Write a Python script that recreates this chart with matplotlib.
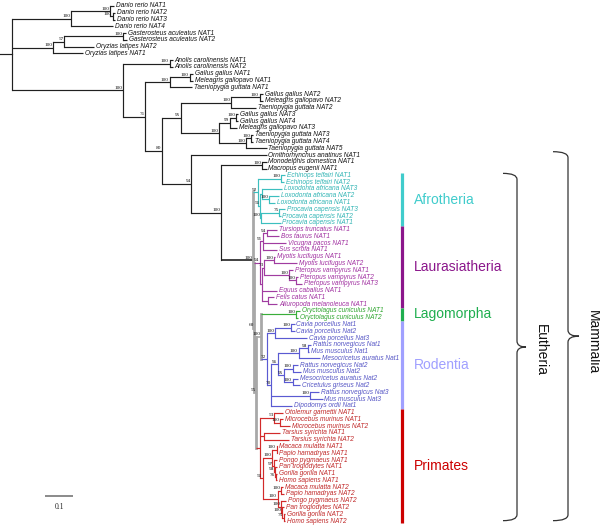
import matplotlib
matplotlib.use('Agg')
import matplotlib.pyplot as plt
from matplotlib.path import Path
from matplotlib.patches import PathPatch

# NAT gene tree, branch lengths in substitutions/site, internal labels = bootstrap
afro = ("((Echinops_telfairi_NAT1:0.015,Echinops_telfairi_NAT2:0.012)100:0.081,"
        "((Loxodonta_africana_NAT3:0.071,(Loxodonta_africana_NAT2:0.036,Loxodonta_africana_NAT1:0.021)100:0.025):0.007,"
        "((Procavia_capensis_NAT3:0.021,Procavia_capensis_NAT2:0.004)75:0.064,Procavia_capensis_NAT1:0.068)100:0.004)51:0.007)92:0.020")
laur = ("(((Tursiops_truncatus_NAT1:0.036,Bos_taurus_NAT1:0.043)94:0.014,Vicugna_pacos_NAT1:0.079,Sus_scrofa_NAT1:0.050)91:0.011,"
        "(((Myotis_lucifugus_NAT1:0.004,Myotis_lucifugus_NAT2:0.082)100:0.036,"
        "(Pteropus_vampyrus_NAT1:0.014,(Pteropus_vampyrus_NAT2:0.007,Pteropus_vampyrus_NAT3:0.021)100:0.025)100:0.089)73:0.007,"
        "Equus_caballus_NAT1:0.054,(Felis_catus_NAT1:0.024,Ailuropoda_melanoleuca_NAT1:0.035):0.019):0.007)94:0.021")
glires = ("((Oryctolagus_cuniculus_NAT1:0.012,Oryctolagus_cuniculus_NAT2:0.008)100:0.124,"
          "(((Cavia_porcellus_Nat1:0.012,Cavia_porcellus_Nat2:0.012)100:0.056,Cavia_porcellus_Nat3:0.114)100:0.032,"
          "((((Rattus_norvegicus_Nat1:0.011,Mus_musculus_Nat1:0.004)98:0.032,Mesocricetus_auratus_Nat1:0.075)100:0.075,"
          "((Rattus_norvegicus_Nat2:0.018,Mus_musculus_Nat2:0.029)100:0.032,"
          "(Mesocricetus_auratus_Nat2:0.018,Cricetulus_griseus_Nat2:0.025)100:0.032)95:0.021)96:0.023,"
          "(Rattus_norvegicus_Nat3:0.032,Mus_musculus_Nat3:0.043)100:0.140,Dipodomys_ordii_Nat1:0.073)70:0.017)72:0.018)100:0.018")
prim = ("((Otolemur_garnettii_NAT1:0.032,(Microcebus_murinus_NAT1:0.011,Microcebus_murinus_NAT2:0.036)100:0.021)53:0.050,"
        "(Tarsius_syrichta_NAT1:0.057,Tarsius_syrichta_NAT2:0.089):0.014,"
        "(((Macaca_mulatta_NAT1:0.003,Papio_hamadryas_NAT1:0.003)100:0.015,"
        "(Pongo_pygmaeus_NAT1:0.011,(Pan_troglodytes_NAT1:0.004,(Gorilla_gorilla_NAT1:0.002,Homo_sapiens_NAT1:0.002)76:0.002)98:0.004)97:0.007)100:0.035,"
        "((Macaca_mulatta_NAT2:0.007,Papio_hamadryas_NAT2:0.011)100:0.013,"
        "(Pongo_pygmaeus_NAT2:0.019,(Pan_troglodytes_NAT2:0.007,(Gorilla_gorilla_NAT2:0.004,Homo_sapiens_NAT2:0.004)75:0.004)100:0.005)100:0.012)100:0.054)51:0.008):0.014")
eutheria = "(" + afro + ",(" + laur + ",(" + glires + "," + prim + ")55:0.007)60:0.006)100:0.113"

newick = ("(((Danio_rerio_NAT1:0.014,(Danio_rerio_NAT2:0.009,Danio_rerio_NAT3:0.009)100:0.009)100:0.140,Danio_rerio_NAT4:0.151)100:0.210,"
          "(((Gasterosteus_aculeatus_NAT1:0.008,Gasterosteus_aculeatus_NAT2:0.013)100:0.211,Oryzias_latipes_NAT2:0.106)57:0.039,Oryzias_latipes_NAT1:0.106)100:0.148,"
          "((Anolis_carolinensis_NAT1:0.011,Anolis_carolinensis_NAT2:0.011)100:0.167,"
          "(((Gallus_gallus_NAT1:0.011,Meleagris_gallopavo_NAT1:0.014)100:0.071,Taeniopygia_guttata_NAT1:0.079)100:0.087,"
          "((((Gallus_gallus_NAT2:0.011,Meleagris_gallopavo_NAT2:0.014)100:0.101,Taeniopygia_guttata_NAT2:0.089)100:0.179,"
          "(((Gallus_gallus_NAT3:0.008,Gallus_gallus_NAT4:0.008)100:0.020,Meleagris_gallopavo_NAT3:0.023)99:0.039,"
          "((Taeniopygia_guttata_NAT3:0.006,Taeniopygia_guttata_NAT4:0.006)100:0.018,Taeniopygia_guttata_NAT5:0.073)100:0.095)100:0.137)95:0.070,"
          "(Ornithorhynchus_anatinus_NAT1:0.268,((Monodelphis_domestica_NAT1:0.016,Macropus_eugenii_NAT1:0.016)100:0.146,"
          + eutheria + ")100:0.106)94:0.107)80:0.058)71:0.080)100:0.396);")

clade_names = ['Afrotheria', 'Laurasiatheria', 'Lagomorpha', 'Rodentia', 'Primates']
clade_first = ['Echinops_telfairi_NAT1', 'Tursiops_truncatus_NAT1', 'Oryctolagus_cuniculus_NAT1',
               'Cavia_porcellus_Nat1', 'Otolemur_garnettii_NAT1']
clade_last = ['Procavia_capensis_NAT1', 'Ailuropoda_melanoleuca_NAT1', 'Oryctolagus_cuniculus_NAT2',
              'Dipodomys_ordii_Nat1', 'Homo_sapiens_NAT2']
branch_colors = ['#3cbfbf', '#a03ca0', '#3aae3a', '#5a5ad2', '#d22a2a']
text_colors = ['#30b4b4', '#a02fa0', '#2ea52e', '#5555c5', '#c02828']
band_colors = ['#40cccc', '#8b168b', '#1fae4f', '#a0a0ff', '#cc0000']
scale_len = 0.1


def parse(s):
    s = s.strip().rstrip(';')
    pos = 0

    def node():
        nonlocal pos
        n = {'children': [], 'name': '', 'len': 0.0}
        if s[pos] == '(':
            pos += 1
            while True:
                n['children'].append(node())
                if s[pos] == ',':
                    pos += 1
                    continue
                pos += 1
                break
        start = pos
        while pos < len(s) and s[pos] not in ':,)':
            pos += 1
        n['name'] = s[start:pos]
        if pos < len(s) and s[pos] == ':':
            pos += 1
            start = pos
            while pos < len(s) and s[pos] not in ',)':
                pos += 1
            n['len'] = float(s[start:pos])
        return n
    return node()


tree = parse(newick)
leaves = []


def layout(n, x):
    n['x'] = x
    if not n['children']:
        n['y'] = len(leaves)
        leaves.append(n)
        n['lo'] = n['hi'] = n['y']
        return
    for c in n['children']:
        layout(c, x + c['len'])
    n['y'] = (n['children'][0]['y'] + n['children'][-1]['y']) / 2
    n['lo'] = n['children'][0]['lo']
    n['hi'] = n['children'][-1]['hi']


layout(tree, 0.0)
idx = {l['name']: l['y'] for l in leaves}
ranges = [(idx[a], idx[b]) for a, b in zip(clade_first, clade_last)]
euth_lo, euth_hi = ranges[0][0], ranges[-1][1]


def node_color(n):
    for k, (a, b) in enumerate(ranges):
        if n['lo'] >= a and n['hi'] <= b:
            return k
    if n['lo'] >= euth_lo and n['hi'] <= euth_hi:
        return 'grey'
    return None


fig = plt.figure(figsize=(6, 5.25), dpi=100)
ax = fig.add_axes([0, 0, 1, 1])
ax.set_xlim(-12 / 280, 588 / 280)
ax.set_ylim(76.59, -0.885)
ax.axis('off')

lw = 0.85
black = '#202020'


def draw(n, parent=None):
    c = node_color(n)
    if c is None:
        col, vlw = black, lw
    elif c == 'grey':
        col, vlw = '#a8a8a8', 2.0
    else:
        col, vlw = branch_colors[c], lw
    if parent is not None:
        stem = col
        if c == 'grey' and node_color(parent) is None:
            stem = black
        ax.plot([parent['x'], n['x']], [n['y'], n['y']], color=stem,
                lw=lw if c != 'grey' else 1.2, solid_capstyle='butt')
    if n['children']:
        ax.plot([n['x'], n['x']], [n['children'][0]['y'], n['children'][-1]['y']],
                color=col, lw=vlw, solid_capstyle='projecting')
        if n['name'] and parent is not None:
            ax.annotate(n['name'], (n['x'], n['y']), xytext=(-0.6, 0.3),
                        textcoords='offset points', ha='right', va='bottom',
                        fontsize=3.8, family='Liberation Serif', color='#111111')
        for ch in n['children']:
            draw(ch, n)
    else:
        tcol = '#111111' if c is None or c == 'grey' else text_colors[c]
        ax.text(n['x'] + 0.007, n['y'], n['name'].replace('_', ' '), fontsize=4.7,
                style='italic', family='Liberation Sans', va='center', ha='left', color=tcol)


draw(tree)
ax.plot([-12 / 280, 0], [tree['y'], tree['y']], color=black, lw=lw)

# scale bar
sb_x = (45 - 12) / 280
ax.plot([sb_x, sb_x + scale_len], [72.3, 72.3], color='#8a8a8a', lw=1.4, solid_capstyle='butt')
ax.text(sb_x + scale_len / 2, 73.3, str(scale_len), fontsize=5.5, family='Liberation Serif',
        ha='center', va='top', color='#222222')

# clade bands
bx = (402 - 12) / 280
edges = [ranges[0][0] - 0.3]
for k in range(len(ranges) - 1):
    edges.append((ranges[k][1] + ranges[k + 1][0]) / 2)
edges.append(ranges[-1][1] + 0.25)
for k, name in enumerate(clade_names):
    ax.plot([bx, bx], [edges[k], edges[k + 1]], color=band_colors[k], lw=2.3, solid_capstyle='butt')
    ax.text(bx + 12 / 280, (edges[k] + edges[k + 1]) / 2, name, fontsize=10,
            family='Liberation Sans', color=band_colors[k], va='center', ha='left')


def brace(x0, y0, y1, w, cw, r):
    kx, ky = 1 / 280, 1 / 6.776
    xa, xb, xc = (x0 - 12) * kx, (x0 + w - 12) * kx, (x0 + w + cw - 12) * kx
    ym = (y0 + y1) / 2
    rr = r * ky
    verts = [(xa, y0), (xb, y0), (xb, y0 + rr), (xb, ym - rr), (xb, ym), (xc, ym),
             (xb, ym), (xb, ym + rr), (xb, y1 - rr), (xb, y1), (xa, y1)]
    codes = [Path.MOVETO, Path.CURVE3, Path.CURVE3, Path.LINETO, Path.CURVE3, Path.CURVE3,
             Path.CURVE3, Path.CURVE3, Path.LINETO, Path.CURVE3, Path.CURVE3]
    ax.add_patch(PathPatch(Path(verts, codes), fill=False, ec='#333333', lw=0.9))
    return (xc, ym)


m_lo = idx['Ornithorhynchus_anatinus_NAT1'] - 0.5
e_lo = edges[0]
brace(503, e_lo, edges[-1] - 0.3, 14, 9, 6)
brace(553, m_lo, edges[-1] - 0.3, 15, 11, 6)
ax.text((541 - 12) / 280, (e_lo + edges[-1]) / 2 + 0.3, 'Eutheria', rotation=270, fontsize=10,
        family='Liberation Sans', ha='center', va='center', color='#111111')
ax.text((593 - 12) / 280, (m_lo + edges[-1]) / 2 + 0.7, 'Mammalia', rotation=270, fontsize=10,
        family='Liberation Sans', ha='center', va='center', color='#111111')

fig.savefig('out.png', dpi=100)
